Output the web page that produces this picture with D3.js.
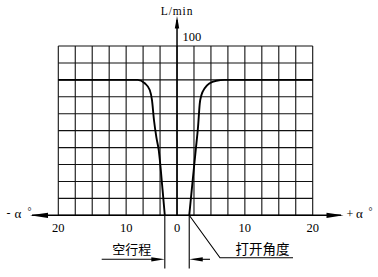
<!DOCTYPE html>
<html>
<head>
<meta charset="utf-8">
<script src="https://cdn.jsdelivr.net/npm/d3@7"></script>
<style>
  body { margin: 0; background: #fff; }
  svg { display: block; }
</style>
</head>
<body>
<div id="chart"></div>
<script>
'use strict';
// flow (L/min) against handle angle (degrees), one branch each side of zero
const leftBranch = [[-17.5, 80], [-5.8, 80], [-4.76, 78], [-4.02, 74], [-3.69, 68], [-3.39, 56],
  [-3.04, 46], [-2.7, 38.6], [-2.13, 15], [-1.8, 0]];
const rightBranch = [[1.8, 0], [2.27, 19], [2.76, 38.6], [3.1, 52.3], [3.35, 66], [3.6, 71],
  [4.08, 75], [4.82, 78], [5.8, 79.5], [7, 80], [20, 80]];
const idleTravel = [-1.8, 1.8];
const xGrid = [-17.5, -15, -12.5, -10, -7.5, -5, -2.5, 0, 2.5, 5, 7.5, 10, 12.5, 15, 17.5, 20];
const yGrid = [0, 10, 20, 30, 40, 50, 60, 70, 80, 90, 100];
const xTickValues = [-17.5, -7.5, 0, 10, 20];
const xTickLabels = ["20", "10", "0", "10", "20"];
const yTopLabel = "100";

const width = 378, height = 277;
const serif = "'Liberation Serif', 'DejaVu Serif', serif";
const cjk = "'Noto Sans CJK SC', sans-serif";

let svg = d3.select("#chart").append("svg")
  .attr("width", width)
  .attr("height", height);

let x = d3.scaleLinear().domain([-17.5, 20]).range([58.3, 312.7]);
let y = d3.scaleLinear().domain([0, 100]).range([215.3, 46]);

//arrow head as a filled triangle, dir is the unit vector it points to
function arrow(tx, ty, dx, dy, len, half) {
  let bx = tx - dx * len, by = ty - dy * len;
  let px = -dy * half, py = dx * half;
  svg.append("path")
    .attr("d", "M" + [tx, ty] + "L" + [bx + px, by + py] + "L" + [bx - px, by - py] + "Z")
    .attr("fill", "#000");
}

// grid
let grid = svg.append("g").attr("stroke", "#111").attr("stroke-width", 1.1);
grid.selectAll("line.v")
  .data(xGrid)
  .enter()
  .append("line")
  .attr("class", "v")
  .attr("x1", d => x(d)).attr("x2", d => x(d))
  .attr("y1", y(100)).attr("y2", y(0));
grid.selectAll("line.h")
  .data(yGrid)
  .enter()
  .append("line")
  .attr("class", "h")
  .attr("x1", x(-17.5)).attr("x2", x(20))
  .attr("y1", d => y(d)).attr("y2", d => y(d));

// axes with arrows
svg.append("line")
  .attr("x1", 32).attr("x2", 341)
  .attr("y1", y(0)).attr("y2", y(0))
  .attr("stroke", "#000").attr("stroke-width", 1.6);
arrow(30, y(0), -1, 0, 18, 2.6);
arrow(343.5, y(0), 1, 0, 17, 2.6);

svg.append("line")
  .attr("x1", x(0)).attr("x2", x(0))
  .attr("y1", y(0)).attr("y2", 20)
  .attr("stroke", "#000").attr("stroke-width", 1.5);
arrow(x(0), 16, 0, -1, 12.5, 2.2);

svg.append("text")
  .attr("x", x(0)).attr("y", 15)
  .attr("text-anchor", "middle")
  .attr("font-family", serif).attr("font-size", 11.5)
  .attr("letter-spacing", 0.9)
  .text("L/min");
svg.append("text")
  .attr("x", x(0) + 5.5).attr("y", 40.7)
  .attr("font-family", serif).attr("font-size", 12.5)
  .text(yTopLabel);

svg.selectAll("text.tick")
  .data(xTickValues)
  .enter()
  .append("text")
  .attr("class", "tick")
  .attr("x", d => x(d))
  .attr("y", 232.3)
  .attr("text-anchor", "middle")
  .attr("font-family", serif).attr("font-size", 12.5)
  .text((d, i) => xTickLabels[i]);

// axis names
let leftName = svg.append("g").attr("font-family", serif).attr("font-size", 12);
leftName.append("text").attr("x", 6.5).attr("y", 217).text("-");
leftName.append("text").attr("x", 14.5).attr("y", 218).attr("font-size", 13).text("α");
leftName.append("text").attr("x", 27.5).attr("y", 214.5).attr("font-size", 10).text("°");
let rightName = svg.append("g").attr("font-family", serif).attr("font-size", 12);
rightName.append("text").attr("x", 346.5).attr("y", 217.5).text("+");
rightName.append("text").attr("x", 356).attr("y", 218).attr("font-size", 13).text("α");
rightName.append("text").attr("x", 368.5).attr("y", 214.5).attr("font-size", 10).text("°");

// flow curve
let line = d3.line()
  .x(d => x(d[0]))
  .y(d => y(d[1]))
  .curve(d3.curveMonotoneX);
svg.selectAll("path.branch")
  .data([leftBranch, rightBranch])
  .enter()
  .append("path")
  .attr("class", "branch")
  .attr("d", line)
  .attr("fill", "none")
  .attr("stroke", "#000")
  .attr("stroke-width", 1.9);

// idle travel dimension
let dimY = 259.3;
svg.selectAll("line.ext")
  .data(idleTravel)
  .enter()
  .append("line")
  .attr("class", "ext")
  .attr("x1", d => x(d)).attr("x2", d => x(d))
  .attr("y1", y(0)).attr("y2", 268.5)
  .attr("stroke", "#000").attr("stroke-width", 1.1);
svg.append("line")
  .attr("x1", 101.7).attr("x2", x(idleTravel[0]) - 8)
  .attr("y1", dimY).attr("y2", dimY)
  .attr("stroke", "#000").attr("stroke-width", 1.1);
arrow(x(idleTravel[0]), dimY, 1, 0, 13.5, 2.1);
svg.append("line")
  .attr("x1", x(idleTravel[1]) + 8).attr("x2", 210)
  .attr("y1", dimY).attr("y2", dimY)
  .attr("stroke", "#000").attr("stroke-width", 1.1);
arrow(x(idleTravel[1]), dimY, -1, 0, 13.5, 2.1);
svg.append("text")
  .attr("x", 131.7).attr("y", 254.3)
  .attr("text-anchor", "middle")
  .attr("font-family", cjk).attr("font-size", 13)
  .text("空行程");

// opening angle leader
svg.append("path")
  .attr("d", "M" + [x(idleTravel[1]), y(0)] + "L" + [220, 257.8] + "H" + 293)
  .attr("fill", "none")
  .attr("stroke", "#000").attr("stroke-width", 1.1);
svg.append("text")
  .attr("x", 262.5).attr("y", 254)
  .attr("text-anchor", "middle")
  .attr("font-family", cjk).attr("font-size", 13.5)
  .text("打开角度");
</script>
</body>
</html>
